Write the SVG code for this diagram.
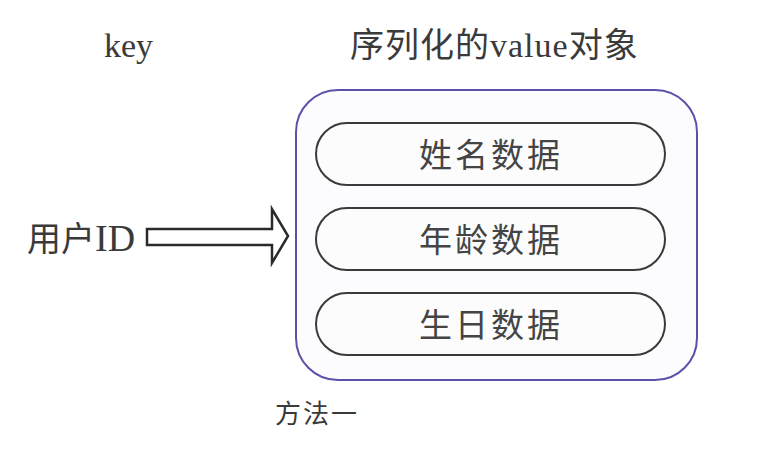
<svg xmlns="http://www.w3.org/2000/svg" width="778" height="454" viewBox="0 0 778 454">
<style>
.t{font-family:"Liberation Serif","Noto Sans CJK SC",serif;fill:#3a3a3a}
.c{font-family:"Noto Sans CJK SC",sans-serif;fill:#3a3a3a}
.pill{fill:#fcfcfd;stroke:#3a3a3a;stroke-width:2}
.pt{font-family:"Noto Sans CJK SC",sans-serif;font-size:33px;fill:#444;text-anchor:middle;letter-spacing:3px}
</style>
<rect width="778" height="454" fill="#ffffff"/>
<text class="t" x="104" y="57" font-size="34">key</text>
<text class="c" x="350" y="57" font-size="34" letter-spacing="1">序列化的<tspan font-family="Liberation Serif,serif">value</tspan>对象</text>
<g id="key">
<text class="c" x="27" y="251" font-size="34">用户<tspan font-family="Liberation Serif,serif" font-size="38">ID</tspan></text>
</g>
<g id="connectors">
<path d="M147 229 H272 V209 L288 236 L272 263 V245 H147 Z" fill="#ffffff" stroke="#2a2a2a" stroke-width="2.5"/>
</g>
<g id="value">
<rect x="296" y="90" width="401" height="290" rx="42" fill="#fcfcfe" stroke="#5a52a8" stroke-width="2"/>
</g>
<g id="name">
<rect class="pill" x="316" y="123" width="349" height="62" rx="31"/>
<text class="pt" x="491" y="167">姓名数据</text>
</g>
<g id="age">
<rect class="pill" x="316" y="208" width="349" height="62" rx="31"/>
<text class="pt" x="491" y="252">年龄数据</text>
</g>
<g id="birthday">
<rect class="pill" x="316" y="293" width="349" height="62" rx="31"/>
<text class="pt" x="491" y="337">生日数据</text>
</g>
<text class="c" x="275" y="423" font-size="26" letter-spacing="2">方法一</text>
</svg>
